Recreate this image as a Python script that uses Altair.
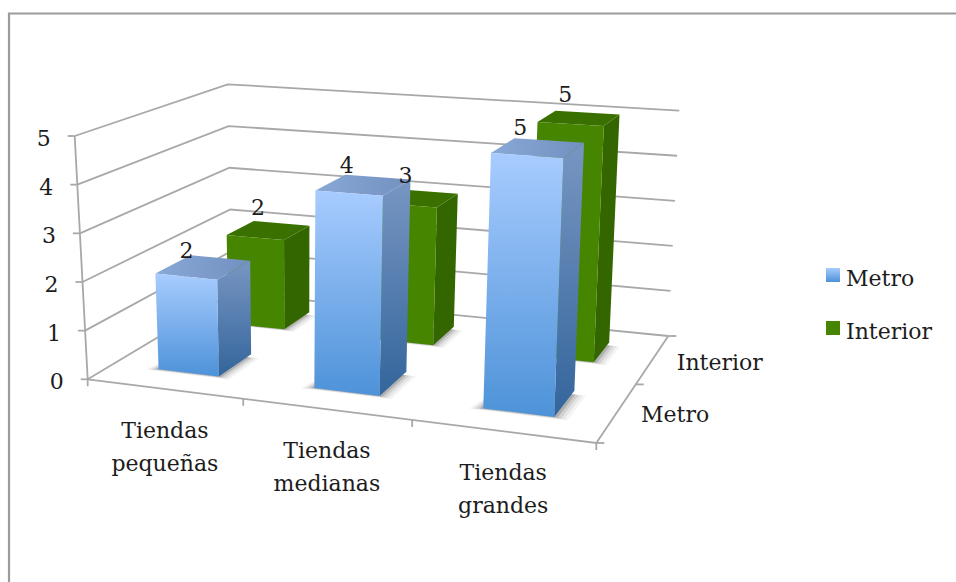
import altair as alt
import numpy as np
import pandas as pd

# Chart data
categories = [["Tiendas", "pequeñas"], ["Tiendas", "medianas"], ["Tiendas", "grandes"]]
series = ["Metro", "Interior"]
metro = [2, 4, 5]
interior = [2, 3, 5]
value_ticks = [0, 1, 2, 3, 4, 5]

WIDTH, HEIGHT = 956, 582
FONT = "DejaVu Serif"
TEXT = "#1c1c1c"
GRID = "#a8a8a8"

# Corners of the floor and of the plane at the axis maximum: front-left, front-right, back-right, back-left
FLOOR = [(87.7, 379.3), (596.3, 443.0), (668.3, 336.0), (232.0, 293.0)]
CEILING = [(74.7, 136.0), (606.0, 173.0), (679.3, 110.7), (227.7, 84.3)]
VMAX = 5
BAR_U = 0.066
ROW_METRO = (0.155, 0.385)
ROW_INTERIOR = (0.66, 0.87)
SHIFT_METRO = 0.001
SHIFT_INTERIOR = -0.004
# Per-label placement of the value captions, relative to each bar's top face
NUDGE_METRO = [(-8.5, -5), (-3.5, -9), (0.5, -11)]
NUDGE_INTERIOR = [(0, -13), (3, -13), (5, -16)]


def homography(q):
    A, b = [], []
    for (u, v), (x, y) in zip([(0, 0), (1, 0), (1, 1), (0, 1)], q):
        A.append([u, v, 1, 0, 0, 0, -u * x, -v * x])
        A.append([0, 0, 0, u, v, 1, -u * y, -v * y])
        b += [x, y]
    return np.append(np.linalg.solve(np.array(A), np.array(b)), 1).reshape(3, 3)


H_FLOOR, H_CEIL = homography(FLOOR), homography(CEILING)


def project(u, v, h):
    """Depth-axis and category-axis fractions plus a value to a page position."""
    p = np.array([u, v, 1.0])
    a, c = H_FLOOR @ p, H_CEIL @ p
    a, c = a[:2] / a[2], c[:2] / c[2]
    return tuple(float(t) for t in a + (c - a) * h / VMAX)


x_scale = alt.Scale(domain=[0, WIDTH], range=[0, WIDTH])
y_scale = alt.Scale(domain=[0, HEIGHT], range=[0, HEIGHT])
X = alt.X("x:Q", scale=x_scale, axis=None)
Y = alt.Y("y:Q", scale=y_scale, axis=None)


def poly_layer(pts, fill, opacity=1.0):
    ring = [list(p) for p in pts] + [list(pts[0])]
    feature = {"type": "Feature", "properties": {}, "geometry": {"type": "Polygon", "coordinates": [ring]}}
    return (
        alt.Chart(alt.Data(values=[feature]))
        .mark_geoshape(fill=fill, fillOpacity=opacity, strokeWidth=0, stroke="transparent")
        .project(type="identity", scale=1, translate=[0, 0])
    )


def vgrad(top, bottom):
    return alt.LinearGradient(
        gradient="linear", x1=0, x2=0, y1=0, y2=1,
        stops=[alt.GradientStop(color=top, offset=0), alt.GradientStop(color=bottom, offset=1)],
    )


def hgrad(left, right):
    return alt.LinearGradient(
        gradient="linear", x1=0, x2=1, y1=0, y2=0,
        stops=[alt.GradientStop(color=left, offset=0), alt.GradientStop(color=right, offset=1)],
    )


# Frame, walls, floor and ticks as polylines
segments = []


def segment(*pts):
    gid = len(segments)
    segments.extend({"g": gid, "i": i, "x": p[0], "y": p[1]} for i, p in enumerate(pts))


segment((9, HEIGHT), (9, 13.5), (WIDTH, 13.5))
frame_rows = list(segments)
segments.clear()

for h in value_ticks:
    segment(project(0, 0, h), project(0, 1, h), project(1, 1, h))
    x0, y0 = project(0, 0, h)
    segment((x0 - 7, y0), (x0, y0))
segment(project(0, 0, 0), project(0, 0, VMAX))
segment(project(0, 0, 0), project(1, 0, 0), project(1, 1, 0))
for k in range(4):
    x0, y0 = project(k / 3, 0, 0)
    segment((x0, y0), (x0, y0 + 7))
for v in [0, 0.5, 1]:
    x0, y0 = project(1, v, 0)
    segment((x0, y0), (x0 + 8, y0))

lines = alt.Chart(pd.DataFrame(segments)).mark_line(color=GRID, strokeWidth=1.8).encode(
    x=X, y=Y, detail="g:N", order="i:Q"
)
frame = alt.Chart(pd.DataFrame(frame_rows)).mark_line(color="#9c9c9c", strokeWidth=2.2).encode(
    x=X, y=Y, detail="g:N", order="i:Q"
)

# Bars, back row first so the front row overlaps it
METRO_FACES = dict(
    front=vgrad("#a8ccff", "#4d92d8"),
    side=vgrad("#7896c2", "#33659b"),
    top=hgrad("#88a8d6", "#7391c0"),
)
INTERIOR_FACES = dict(front="#468500", side="#346600", top="#3a7000")

shadows, bars, value_labels = [], [], []
rows = [
    (interior, INTERIOR_FACES, ROW_INTERIOR, SHIFT_INTERIOR, NUDGE_INTERIOR),
    (metro, METRO_FACES, ROW_METRO, SHIFT_METRO, NUDGE_METRO),
]
for vals, faces, (v0, v1), shift, nudges in rows:
    for i, val in enumerate(vals):
        uc = (i + 0.5) / 3 + shift
        u0, u1 = uc - BAR_U, uc + BAR_U
        for grow, op in [(0.024, 0.05), (0.018, 0.07), (0.012, 0.11), (0.006, 0.2)]:
            shadows.append(poly_layer(
                [project(u0 - grow * 1.0, v0 - grow * 0.6, 0), project(u1 + grow * 1.1, v0 - grow * 0.6, 0),
                 project(u1 + grow * 1.1, v1 - 0.03, 0), project(u0, v1 - 0.03, 0)],
                "#303030", op,
            ))
        bars.append(poly_layer(
            [project(u1, v0, 0), project(u1, v1, 0), project(u1, v1, val), project(u1, v0, val)], faces["side"]))
        bars.append(poly_layer(
            [project(u0, v0, val), project(u1, v0, val), project(u1, v1, val), project(u0, v1, val)], faces["top"]))
        bars.append(poly_layer(
            [project(u0, v0, 0), project(u1, v0, 0), project(u1, v0, val), project(u0, v0, val)], faces["front"]))
        lx, ly = project(uc - 0.056, v1, val)
        value_labels.append({"x": lx + nudges[i][0], "y": ly + nudges[i][1], "t": str(val)})


def text_layer(rows, align="center"):
    return alt.Chart(pd.DataFrame(rows)).mark_text(
        font=FONT, fontSize=22, color=TEXT, align=align, baseline="middle"
    ).encode(x=X, y=Y, text="t:N")


tick_labels = []
for h in value_ticks:
    x0, y0 = project(0, 0, h)
    tick_labels.append({"x": x0 - 31, "y": y0 + 3, "t": str(h)})

category_labels = []
for i, (first, second) in enumerate(categories):
    x0, y0 = project((i + 0.5) / 3, 0, 0)
    category_labels.append({"x": x0 + 1, "y": y0 + 42, "t": first})
    category_labels.append({"x": x0 + 1, "y": y0 + 75, "t": second})

depth_labels = []
for name, v, dy in zip(series, [0.25, 0.75], [3, 4]):
    x0, y0 = project(1, v, 0)
    depth_labels.append({"x": x0 + 24, "y": y0 + dy, "t": name})

# Legend
legend_rows = [{"x": 846, "y": 279, "t": series[0]}, {"x": 846, "y": 332, "t": series[1]}]
swatch_metro = alt.Chart(pd.DataFrame({"x": [826], "x2": [840], "y": [268], "y2": [282]})).mark_rect(
    fill=vgrad("#a8ccff", "#4d92d8")
).encode(x=X, x2="x2:Q", y=Y, y2="y2:Q")
swatch_interior = alt.Chart(pd.DataFrame({"x": [826], "x2": [840], "y": [321], "y2": [335]})).mark_rect(
    fill="#468500"
).encode(x=X, x2="x2:Q", y=Y, y2="y2:Q")

chart = alt.layer(
    frame,
    lines,
    *shadows,
    *bars,
    text_layer(tick_labels),
    text_layer(category_labels),
    text_layer(depth_labels, "left"),
    text_layer(value_labels),
    swatch_metro,
    swatch_interior,
    text_layer(legend_rows, "left"),
).properties(
    width=WIDTH,
    height=HEIGHT,
    padding=0,
    autosize=alt.AutoSizeParams(type="none"),
    background="white",
).configure_view(stroke=None)

chart.save("out.html", embed_options={"renderer": "svg", "actions": False})
